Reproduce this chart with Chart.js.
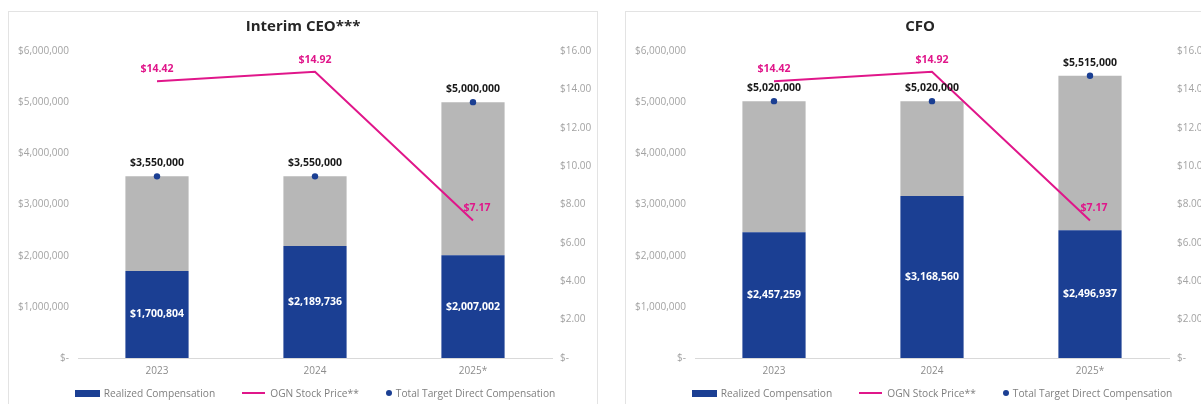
<!DOCTYPE html>
<html>
<head>
<meta charset="utf-8">
<script src="https://cdn.jsdelivr.net/npm/chart.js@4.4.1/dist/chart.umd.min.js"></script>
<style>
  html, body { margin: 0; padding: 0; background: #ffffff; width: 1201px; height: 404px; overflow: hidden; }
  .panel { position: absolute; top: 11px; width: 588px; height: 400px; border: 1px solid #e3e3e3; background: #fff; }
  .panel canvas { position: absolute; left: 0; top: 0; }
  .legend { position: absolute; left: 69px; width: 474px; top: 374px; height: 14px;
            display: flex; justify-content: center; align-items: center;
            font-family: 'Open Sans', sans-serif; font-size: 10.2px; color: #7f7f7f; white-space: nowrap; }
  .legend .item { display: flex; align-items: center; }
  .legend .item + .item { margin-left: 27px; }
  .sw-bar { width: 25px; height: 7px; background: #1b3f93; margin-right: 4px; }
  .sw-line { width: 23px; height: 2px; background: #e0168a; margin-right: 5px; }
  .sw-dot { width: 6px; height: 6px; border-radius: 50%; background: #1b3f93; margin-right: 4px; }
</style>
</head>
<body>
<div class="panel" id="p1" style="left:8px"><canvas id="c1" width="588" height="392"></canvas></div>
<div class="panel" id="p2" style="left:625px"><canvas id="c2" width="588" height="392"></canvas></div>
<script>
// Fiscal years shown on the category axis
const years = ['2023', '2024', '2025*'];

// Interim CEO compensation
const ceoRealized = [1700804, 2189736, 2007002];
const ceoTarget   = [3550000, 3550000, 5000000];

// CFO compensation
const cfoRealized = [2457259, 3168560, 2496937];
const cfoTarget   = [5020000, 5020000, 5515000];

// OGN share price at each year point
const stockPrice = [14.42, 14.92, 7.17];

// Axis ranges
const compMax = 6000000, compStep = 1000000;
const priceMax = 16, priceStep = 2;

const NAVY = '#1b3f93';
const PINK = '#e0168a';
const GRAY = '#b7b7b7';
const TICK = '#a3a3a3';

const legendNames = ['Realized Compensation', 'OGN Stock Price**', 'Total Target Direct Compensation'];

Chart.defaults.font.family = "'Open Sans', sans-serif";

const money = v => '$' + Math.round(v).toLocaleString('en-US');

// Value labels: white inside realized bars, black above target dots, pink above price line
const valueLabels = {
  id: 'valueLabels',
  afterDatasetsDraw(chart) {
    const ctx = chart.ctx;
    ctx.save();
    ctx.font = "bold 10.5px 'Open Sans', sans-serif";
    ctx.textAlign = 'center';
    ctx.textBaseline = 'middle';
    const ds = chart.data.datasets;
    // realized (dataset 0)
    chart.getDatasetMeta(0).data.forEach((el, i) => {
      ctx.fillStyle = '#ffffff';
      ctx.fillText(money(ds[0].data[i]), el.x, (el.y + el.base) / 2);
    });
    // price line (dataset 2)
    chart.getDatasetMeta(2).data.forEach((el, i) => {
      ctx.fillStyle = PINK;
      ctx.fillText('$' + ds[2].data[i].toFixed(2), el.x + (i === 2 ? 4 : 0), el.y - 12);
    });
    // total target (dataset 3)
    chart.getDatasetMeta(3).data.forEach((el, i) => {
      ctx.fillStyle = '#1a1a1a';
      ctx.fillText(money(ds[3].data[i]), el.x, el.y - 13);
    });
    ctx.restore();
  }
};

function buildChart(canvasId, panelId, title, realized, target) {
  const remainder = target.map((t, i) => t - realized[i]);
  new Chart(document.getElementById(canvasId), {
    type: 'bar',
    data: {
      labels: years,
      datasets: [
        { label: legendNames[0], data: realized, backgroundColor: NAVY, stack: 'comp', yAxisID: 'y', order: 2,
          categoryPercentage: 1, barPercentage: 0.4 },
        { label: 'Unrealized', data: remainder, backgroundColor: GRAY, stack: 'comp', yAxisID: 'y', order: 3,
          categoryPercentage: 1, barPercentage: 0.4 },
        { type: 'line', label: legendNames[1], data: stockPrice, yAxisID: 'y1', borderColor: PINK,
          borderWidth: 2, pointRadius: 0, tension: 0, order: 1 },
        { type: 'line', label: legendNames[2], data: target, yAxisID: 'y', showLine: false,
          pointRadius: 3.2, pointBackgroundColor: NAVY, pointBorderWidth: 0, order: 0 }
      ]
    },
    options: {
      responsive: false,
      animation: false,
      layout: { padding: { top: 0, left: 0, right: 0, bottom: 16 } },
      plugins: {
        legend: { display: false },
        tooltip: { enabled: false },
        title: {
          display: true, text: title, color: '#262626',
          font: { size: 15, weight: 'bold', lineHeight: 1.2 },
          padding: { top: 6, bottom: 15 }
        }
      },
      scales: {
        x: {
          grid: { display: false, drawTicks: false },
          border: { display: true, color: '#d9d9d9', width: 1 },
          ticks: { color: '#8c8c8c', font: { size: 10 }, padding: 7 },
          afterFit(s) { s.height = 30; }
        },
        y: {
          position: 'left', min: 0, max: compMax,
          grid: { display: false, drawTicks: false },
          border: { display: false },
          ticks: { stepSize: compStep, color: TICK, font: { size: 10 }, padding: 9,
                   callback: v => v === 0 ? '$-' : money(v) },
          afterFit(s) { s.width = 69; }
        },
        y1: {
          position: 'right', min: 0, max: priceMax,
          grid: { display: false, drawTicks: false },
          border: { display: false },
          ticks: { stepSize: priceStep, color: TICK, font: { size: 10 }, padding: 8,
                   callback: v => v === 0 ? '$-' : '$' + v.toFixed(2) },
          afterFit(s) { s.width = 45; }
        }
      }
    },
    plugins: [valueLabels]
  });

  // Legend row under the plot
  const lg = document.createElement('div');
  lg.className = 'legend';
  const swatches = ['sw-bar', 'sw-line', 'sw-dot'];
  legendNames.forEach((name, i) => {
    const it = document.createElement('div');
    it.className = 'item';
    const sw = document.createElement('span');
    sw.className = swatches[i];
    const tx = document.createElement('span');
    tx.textContent = name;
    it.appendChild(sw); it.appendChild(tx);
    lg.appendChild(it);
  });
  document.getElementById(panelId).appendChild(lg);
}

buildChart('c1', 'p1', 'Interim CEO***', ceoRealized, ceoTarget);
buildChart('c2', 'p2', 'CFO', cfoRealized, cfoTarget);
</script>
</body>
</html>
